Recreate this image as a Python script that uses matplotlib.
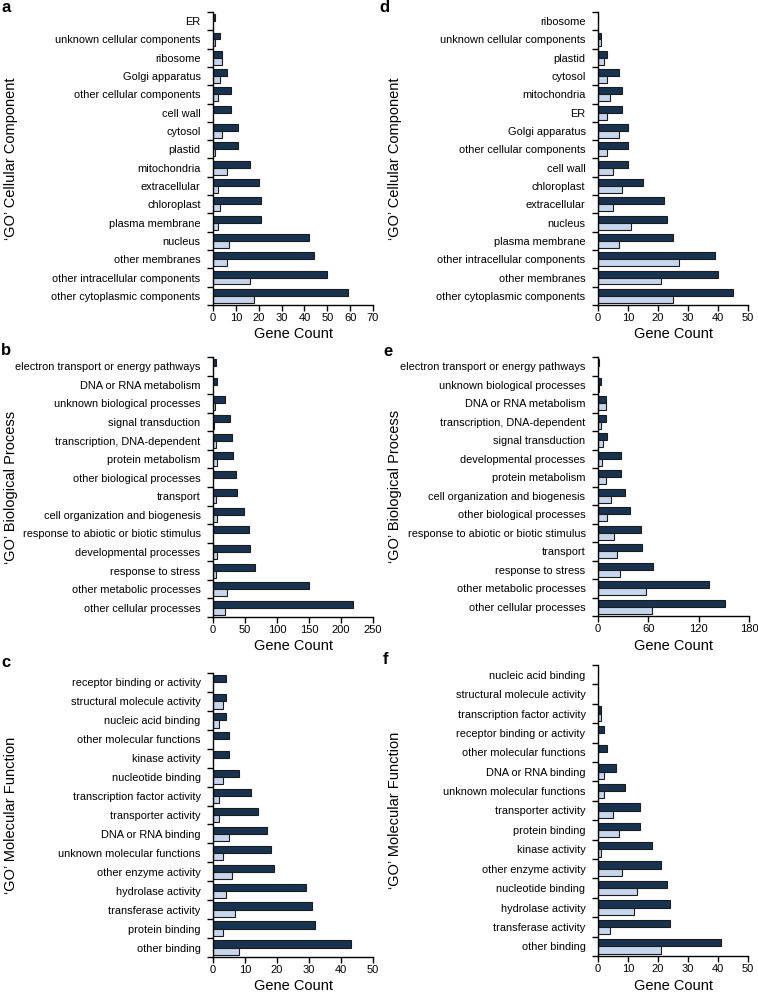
import matplotlib.pyplot as plt
import numpy as np

plt.rcParams['font.family'] = ['Liberation Sans', 'DejaVu Sans']

# panel a - cellular component (top to bottom)
a_cats = ['ER', 'unknown cellular components', 'ribosome', 'Golgi apparatus',
          'other cellular components', 'cell wall', 'cytosol', 'plastid',
          'mitochondria', 'extracellular', 'chloroplast', 'plasma membrane',
          'nucleus', 'other membranes', 'other intracellular components',
          'other cytoplasmic components']
a_dark = [1, 3, 4, 6, 8, 8, 11, 11, 16, 20, 21, 21, 42, 44, 50, 59]
a_light = [0, 1, 4, 3, 2, 0, 4, 1, 6, 2, 3, 2, 7, 6, 16, 18]

# panel d
d_cats = ['ribosome', 'unknown cellular components', 'plastid', 'cytosol',
          'mitochondria', 'ER', 'Golgi apparatus', 'other cellular components',
          'cell wall', 'chloroplast', 'extracellular', 'nucleus',
          'plasma membrane', 'other intracellular components',
          'other membranes', 'other cytoplasmic components']
d_dark = [0, 1, 3, 7, 8, 8, 10, 10, 10, 15, 22, 23, 25, 39, 40, 45]
d_light = [0, 1, 2, 3, 4, 3, 7, 3, 5, 8, 5, 11, 7, 27, 21, 25]

# panel b - biological process
b_cats = ['electron transport or energy pathways', 'DNA or RNA metabolism',
          'unknown biological processes', 'signal transduction',
          'transcription, DNA-dependent', 'protein metabolism',
          'other biological processes', 'transport',
          'cell organization and biogenesis',
          'response to abiotic or biotic stimulus', 'developmental processes',
          'response to stress', 'other metabolic processes',
          'other cellular processes']
b_dark = [5, 6, 19, 26, 30, 31, 36, 38, 48, 56, 58, 66, 150, 219]
b_light = [0, 0, 3, 1, 5, 7, 0, 5, 6, 0, 6, 4, 22, 19]

# panel e
e_cats = ['electron transport or energy pathways', 'unknown biological processes',
          'DNA or RNA metabolism', 'transcription, DNA-dependent',
          'signal transduction', 'developmental processes', 'protein metabolism',
          'cell organization and biogenesis', 'other biological processes',
          'response to abiotic or biotic stimulus', 'transport',
          'response to stress', 'other metabolic processes',
          'other cellular processes']
e_dark = [1, 3, 9, 9, 11, 27, 27, 32, 38, 51, 52, 66, 132, 151]
e_light = [0, 1, 9, 3, 6, 5, 9, 16, 11, 19, 23, 26, 57, 64]

# panel c - molecular function
c_cats = ['receptor binding or activity', 'structural molecule activity',
          'nucleic acid binding', 'other molecular functions', 'kinase activity',
          'nucleotide binding', 'transcription factor activity',
          'transporter activity', 'DNA or RNA binding',
          'unknown molecular functions', 'other enzyme activity',
          'hydrolase activity', 'transferase activity', 'protein binding',
          'other binding']
c_dark = [4, 4, 4, 5, 5, 8, 12, 14, 17, 18, 19, 29, 31, 32, 43]
c_light = [0, 3, 2, 0, 0, 3, 2, 2, 5, 3, 6, 4, 7, 3, 8]

# panel f
f_cats = ['nucleic acid binding', 'structural molecule activity',
          'transcription factor activity', 'receptor binding or activity',
          'other molecular functions', 'DNA or RNA binding',
          'unknown molecular functions', 'transporter activity',
          'protein binding', 'kinase activity', 'other enzyme activity',
          'nucleotide binding', 'hydrolase activity', 'transferase activity',
          'other binding']
f_dark = [0, 0, 1, 2, 3, 6, 9, 14, 14, 18, 21, 23, 24, 24, 41]
f_light = [0, 0, 1, 0, 0, 2, 2, 5, 7, 1, 8, 13, 12, 4, 21]

W, H = 758, 992
DARK = '#173350'
LIGHT = '#c6d6ec'
EDGE = '#1c1c1c'

fig = plt.figure(figsize=(W / 100, H / 100), dpi=100)


def panel(box, cats, dark, light, xmax, xstep, ylabel, letter, letter_pos, ylab_x):
    l, t, r, b = box
    ax = fig.add_axes([l / W, 1 - b / H, (r - l) / W, (b - t) / H])
    n = len(cats)
    y = np.arange(n)[::-1]
    h = 0.38
    ax.barh(y + h / 2, dark, height=h, color=DARK, edgecolor=EDGE, linewidth=0.8)
    lv = np.array(light, dtype=float)
    ax.barh(y - h / 2, lv, height=h, color=LIGHT, edgecolor=EDGE,
            linewidth=np.where(lv > 0, 0.8, 0))
    ax.set_ylim(-0.5, n - 0.5)
    ax.set_xlim(0, xmax)
    ax.set_yticks(y)
    ax.set_yticklabels(cats, fontsize=7.9)
    ax.set_yticks(np.arange(n + 1) - 0.5, minor=True)
    ax.tick_params(axis='y', which='major', length=0, pad=9)
    ax.tick_params(axis='y', which='minor', length=4, width=1)
    ax.set_xticks(np.arange(0, xmax + 1, xstep))
    ax.tick_params(axis='x', length=4, width=1, labelsize=8, pad=2)
    for s in ['top', 'right']:
        ax.spines[s].set_visible(False)
    for s in ['left', 'bottom']:
        ax.spines[s].set_linewidth(1)
    ax.set_xlabel('Gene Count', fontsize=10.5, labelpad=3)
    fig.text(ylab_x / W, 1 - (t + b) / 2 / H, ylabel, rotation=90,
             ha='center', va='center', fontsize=10.5)
    fig.text(letter_pos[0] / W, 1 - letter_pos[1] / H, letter,
             fontsize=12, fontweight='bold', ha='left', va='top')
    return ax


panel((213, 12, 373, 305), a_cats, a_dark, a_light, 70, 10,
      "\u2018GO\u2019 Cellular Component", 'a', (2, 0), 11)
panel((598, 12, 748, 305), d_cats, d_dark, d_light, 50, 10,
      "\u2018GO\u2019 Cellular Component", 'd', (379, 0), 395)
panel((213, 357, 373, 617), b_cats, b_dark, b_light, 250, 50,
      "\u2018GO\u2019 Biological Process", 'b', (1, 343), 11)
panel((598, 357, 749, 616), e_cats, e_dark, e_light, 180, 60,
      "\u2018GO\u2019 Biological Process", 'e', (383, 344), 395)
panel((213, 673, 373, 957), c_cats, c_dark, c_light, 50, 10,
      "\u2018GO\u2019 Molecular Function", 'c', (1, 655), 11)
panel((598, 665, 748, 956), f_cats, f_dark, f_light, 50, 10,
      "\u2018GO\u2019 Molecular Function", 'f', (383, 652), 395)

fig.savefig('out.png', dpi=100)
